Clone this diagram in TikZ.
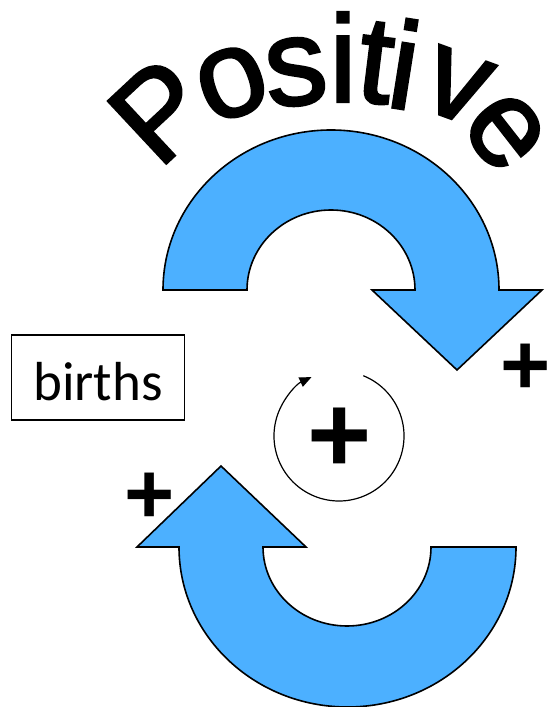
\documentclass[tikz,border=0pt]{standalone}
\usepackage{fontspec}
\setmainfont{Liberation Sans}
\newfontfamily\stockfont{Carlito}
\newfontfamily\titlefamily[FakeBold=2]{Liberation Sans}
\usetikzlibrary{arrows.meta}
\definecolor{loopblue}{RGB}{76,176,255}
\newcommand\titlefont{\titlefamily\fontsize{124}{124}\selectfont}
\tikzset{
  bigarrow/.style ={draw=black, line width=1.6pt, fill=loopblue, line join=miter},
  stock/.style    ={rectangle, draw=black, line width=1.2pt, minimum width=173pt, minimum height=85pt,
                    inner sep=0pt, font=\stockfont\fontsize{55}{55}\selectfont, text height=47pt, text depth=0pt},
  letter/.style   ={inner sep=0pt, font=\titlefont},
  sign/.style     ={inner sep=0pt, font=\bfseries\fontsize{86}{86}\selectfont},
  bigsign/.style  ={inner sep=0pt, font=\bfseries\fontsize{110}{110}\selectfont},
  loopline/.style ={line width=1.2pt, -{Triangle[length=12pt, width=10pt]}},
}
\begin{document}
\begin{tikzpicture}[x=1pt, y=1pt]
\useasboundingbox (0,0) rectangle (548,707);
% arched title, one letter at a time
\foreach \ch/\x/\y/\r [count=\i] in {P/160/596/43, o/232/624/20, s/296/635/6, i/343/650/0,
    t/376/644/-7, i/405/643/-9, v/457/621/-20, e/505/575/-52}
  \node[letter, rotate=\r] (title\i) at (\x,\y) {\ch};
% upper arrow, bending right and down
\path[bigarrow] (163,417) arc[start angle=180, end angle=0, x radius=168, y radius=160]
  -- (542,417) -- (457,337) -- (372,417) -- (415,417)
  arc[start angle=0, end angle=180, x radius=84, y radius=80] -- cycle;
% lower arrow, bending left and up
\path[bigarrow] (516,160) arc[start angle=0, end angle=-180, x radius=168.5, y radius=160]
  -- (137,160) -- (221,241) -- (306,160) -- (263,160)
  arc[start angle=180, end angle=360, x radius=84, y radius=79] -- cycle;
% stock
\node[stock] (births) at (98,329.5) {births};
% link polarities
\node[sign] (plusr) at (526,337.5) {+};
\node[sign] (plusl) at (150,208.5) {+};
% loop polarity
\coordinate (loopc) at (339,271);
\node[bigsign] (loopsign) at (340,267) {+};
\draw[loopline] ([shift={(68:65)}]loopc) arc[start angle=68, end angle=-245, radius=65];
\end{tikzpicture}
\end{document}
